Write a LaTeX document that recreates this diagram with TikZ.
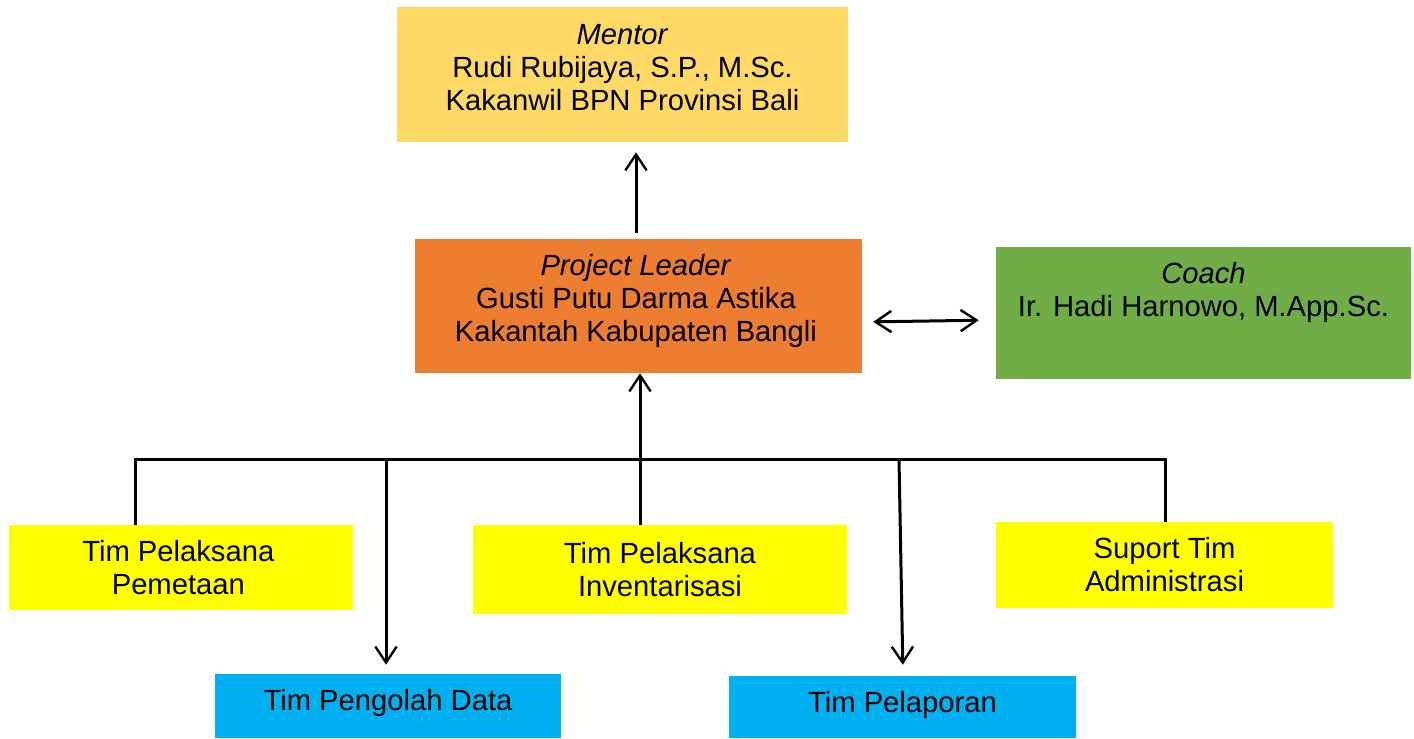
\documentclass[tikz,border=0pt]{standalone}
\usepackage{fontspec}
\setmainfont{Liberation Sans}
\usetikzlibrary{arrows.meta}
\definecolor{mentorgold}{HTML}{FFD966}
\definecolor{leaderorange}{HTML}{ED7D31}
\definecolor{coachgreen}{HTML}{70AD47}
\definecolor{timyellow}{HTML}{FFFF00}
\definecolor{timblue}{HTML}{00B0F0}
\tikzset{
  box/.style   = {inner sep=0pt, draw=none},
  caption/.style = {align=center, inner sep=0pt,
                    font=\fontsize{21.9}{24.75}\selectfont},
  link/.style  = {draw=black, line width=2.25pt},
  flow/.style  = {link, -{Straight Barb[length=12pt, width=16pt, line width=1.8pt]}},
  flowboth/.style = {link, {Straight Barb[length=12pt, width=16pt, line width=1.8pt]}-{Straight Barb[length=12pt, width=16pt, line width=1.8pt]}},
}

\begin{document}
\begin{tikzpicture}[x=0.75pt, y=-0.75pt]
  \useasboundingbox (0,0) rectangle (1414,739);

  % boxes
  \node[box, fill=mentorgold, minimum width=338.25pt, minimum height=101.25pt] (mentor) at (622.5,74.5) {};
  \node[box, fill=leaderorange, minimum width=335.25pt, minimum height=100.5pt] (leader) at (638.5,306) {};
  \node[box, fill=coachgreen, minimum width=311.25pt, minimum height=99pt] (coach) at (1203.5,313) {};
  \node[box, fill=timyellow, minimum width=258pt, minimum height=63.75pt] (pemetaan) at (181,567.5) {};
  \node[box, fill=timyellow, minimum width=280.5pt, minimum height=66.75pt] (inventaris) at (660,569.5) {};
  \node[box, fill=timyellow, minimum width=252.75pt, minimum height=64.5pt] (suport) at (1164.5,565) {};
  \node[box, fill=timblue, minimum width=259.5pt, minimum height=48pt] (pengolah) at (388,706) {};
  \node[box, fill=timblue, minimum width=260.25pt, minimum height=46.5pt] (pelaporan) at (902.5,707) {};

  % texts
  \node[caption] (mentortext) at ([yshift=5.25pt]mentor.center)
       {\textit{Mentor}\\ Rudi Rubijaya, S.P., M.Sc.\\ Kakanwil BPN Provinsi Bali};
  \node[caption] (leadertext) at ([xshift=-1.9pt, yshift=3.75pt]leader.center)
       {\textit{Project Leader}\\ Gusti Putu Darma Astika\\ Kakantah Kabupaten Bangli};
  \node[caption] (coachtext) at ([yshift=15.75pt]coach.center)
       {\textit{Coach}\\ Ir. Hadi Harnowo, M.App.Sc.};
  \node[caption] (pemetaantext) at ([xshift=-2pt]pemetaan.center) {Tim Pelaksana\\ Pemetaan};
  \node[caption] (inventaristext) at (inventaris.center) {Tim Pelaksana\\ Inventarisasi};
  \node[caption] (suporttext) at (suport.center) {Suport Tim\\ Administrasi};
  \node[caption] (pengolahtext) at ([yshift=2.25pt]pengolah.center) {Tim Pengolah Data};
  \node[caption] (pelaporantext) at ([yshift=1.5pt]pelaporan.center) {Tim Pelaporan};

  % bus
  \coordinate (busL) at (135,459);
  \coordinate (busA) at (386,459);
  \coordinate (busM) at (640,459);
  \coordinate (busB) at (899,459);
  \coordinate (busR) at (1165,459);
  \coordinate (pelaporantip) at (903,459);
  \coordinate (mentorlink) at (636,306);

  \draw[link] (pemetaan.north -| busL) -- (busL) -- (busR) -- (suport.north -| busR);
  \draw[flow] (inventaris.north -| busM) -- (leader.south -| busM);
  \draw[flow, shorten >=6.75pt] (busA) -- (pengolah.north -| busA);
  \draw[flow, shorten >=8.25pt] (busB) -- (pelaporan.north -| pelaporantip);
  \draw[flow, shorten <=4.5pt, shorten >=7.5pt] (leader.north -| mentorlink) -- (mentor.south -| mentorlink);
  \draw[flowboth, shorten <=8.25pt, shorten >=12.75pt] ([yshift=-12pt]leader.east) -- ([yshift=-5.25pt]coach.west);
\end{tikzpicture}
\end{document}
